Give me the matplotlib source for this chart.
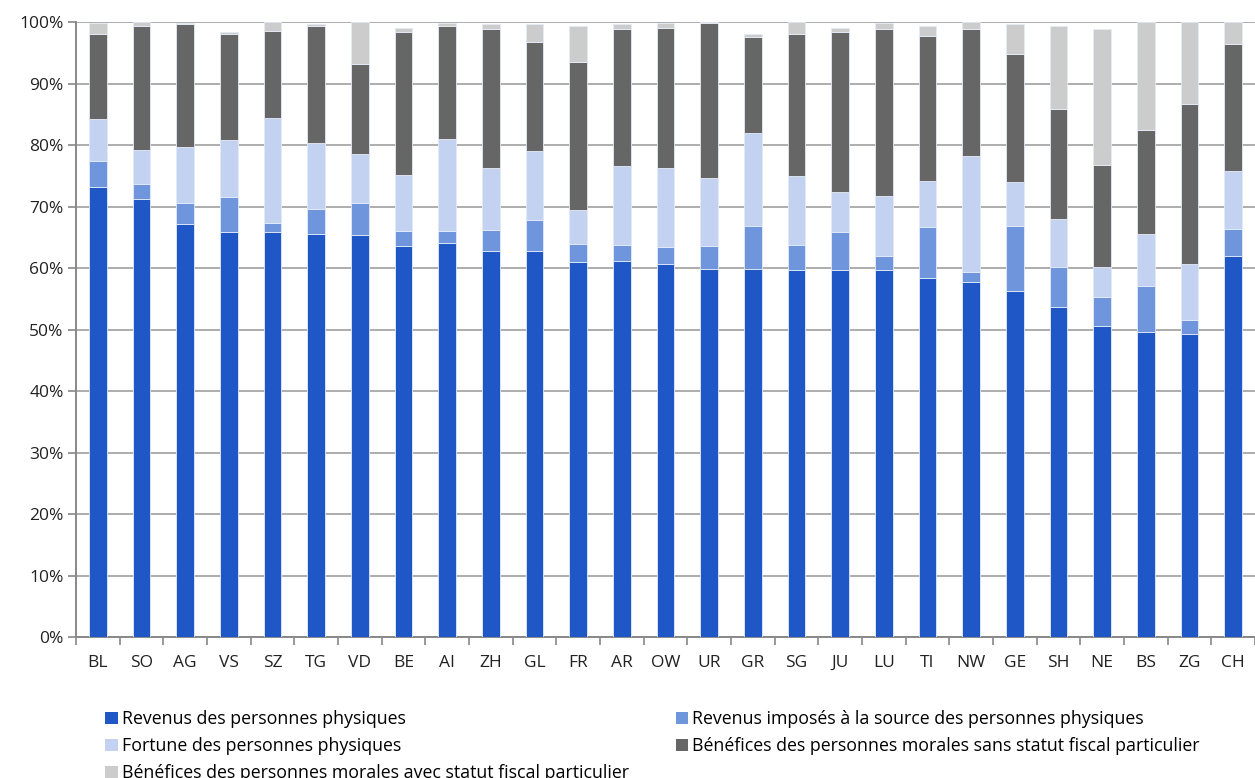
import numpy as np
from matplotlib import pyplot as plt
from matplotlib.patches import Patch
from matplotlib.ticker import FuncFormatter, MultipleLocator

plt.rcParams["font.family"] = ["Open Sans", "DejaVu Sans"]

cantons = ["BL", "SO", "AG", "VS", "SZ", "TG", "VD", "BE", "AI", "ZH", "GL", "FR", "AR", "OW",
           "UR", "GR", "SG", "JU", "LU", "TI", "NW", "GE", "SH", "NE", "BS", "ZG", "CH"]

# shares in % of the total, one list per series
revenus = [73.2, 71.2, 67.2, 65.9, 65.8, 65.5, 65.3, 63.5, 64.0, 62.7, 62.8, 61.0, 61.1, 60.7,
           59.8, 59.9, 59.7, 59.7, 59.6, 58.4, 57.8, 56.3, 53.7, 50.6, 49.6, 49.3, 62.0]
source = [4.2, 2.4, 3.4, 5.6, 1.6, 4.1, 5.3, 2.6, 2.1, 3.5, 5.0, 2.9, 2.6, 2.7,
          3.7, 7.0, 4.1, 6.1, 2.4, 8.3, 1.5, 10.6, 6.5, 4.7, 7.4, 2.2, 4.3]
fortune = [6.8, 5.6, 9.0, 9.3, 17.0, 10.8, 7.9, 9.1, 14.8, 10.1, 11.2, 5.5, 12.9, 12.9,
           11.2, 15.0, 11.1, 6.5, 9.7, 7.5, 18.9, 7.1, 7.8, 4.9, 8.5, 9.2, 9.5]
sans_statut = [13.8, 20.1, 20.1, 17.2, 14.2, 19.0, 14.6, 23.2, 18.5, 22.5, 17.8, 24.1, 22.3, 22.8,
               25.1, 15.7, 23.1, 26.0, 27.2, 23.6, 20.6, 20.8, 17.9, 16.5, 16.9, 26.0, 20.6]
avec_statut = [1.8, 0.7, 0.2, 0.3, 1.4, 0.3, 6.9, 0.6, 0.5, 0.9, 2.8, 5.9, 0.8, 0.8,
               0.2, 0.4, 2.0, 0.7, 1.0, 1.5, 1.2, 4.9, 13.5, 22.2, 17.6, 13.3, 3.6]

labels = [
    "Revenus des personnes physiques",
    "Revenus imposés à la source des personnes physiques",
    "Fortune des personnes physiques",
    "Bénéfices des personnes morales sans statut fiscal particulier",
    "Bénéfices des personnes morales avec statut fiscal particulier",
]
colors = ["#1F58C6", "#6F95DC", "#C2D2F0", "#666666", "#CCCCCC"]
series = [revenus, source, fortune, sans_statut, avec_statut]

fig = plt.figure(figsize=(12.55, 7.78), dpi=100)
ax = fig.add_axes([0.0606, 0.1812, 0.9394, 0.7905])

x = np.arange(len(cantons))
bottom = np.zeros(len(cantons))
for values, color in zip(series, colors):
    values = np.array(values)
    ax.bar(x, values, 0.40, bottom=bottom, color=color, edgecolor="#E4EBF8",
           linewidth=0.6, zorder=3)
    bottom += values

ax.set_xlim(-0.5, len(cantons) - 0.5)
ax.set_ylim(0, 100)
ax.yaxis.set_major_locator(MultipleLocator(10))
ax.yaxis.set_major_formatter(FuncFormatter(lambda v, _: f"{v:.0f}%"))
ax.grid(axis="y", color="#A0A0A0", linewidth=1.2, zorder=0)

ax.set_xticks(x)
ax.set_xticklabels(cantons)
ax.set_xticks(np.arange(-0.5, len(cantons)), minor=True)
ax.tick_params(axis="x", which="major", length=0, pad=13, labelsize=12.5, labelcolor="#222222")
ax.tick_params(axis="x", which="minor", length=6, color="#888888", width=1.2)
ax.tick_params(axis="y", length=6, color="#888888", width=1.2, labelsize=12.5,
               labelcolor="#222222", pad=3)

for side in ["top", "right"]:
    ax.spines[side].set_visible(False)
for side in ["left", "bottom"]:
    ax.spines[side].set_color("#888888")
    ax.spines[side].set_linewidth(1.4)

handles = [Patch(facecolor=c, edgecolor="none") for c in colors]
order = [0, 2, 4, 1, 3]
fig.legend([handles[i] for i in order], [labels[i] for i in order],
           loc="upper left", bbox_to_anchor=(0.084, 0.087), ncol=2, frameon=False,
           fontsize=12.8, handlelength=0.7, handleheight=0.7, handletextpad=0.25,
           labelspacing=0.5, columnspacing=2.6, borderaxespad=0, borderpad=0)

fig.savefig("out.png", dpi=100)
